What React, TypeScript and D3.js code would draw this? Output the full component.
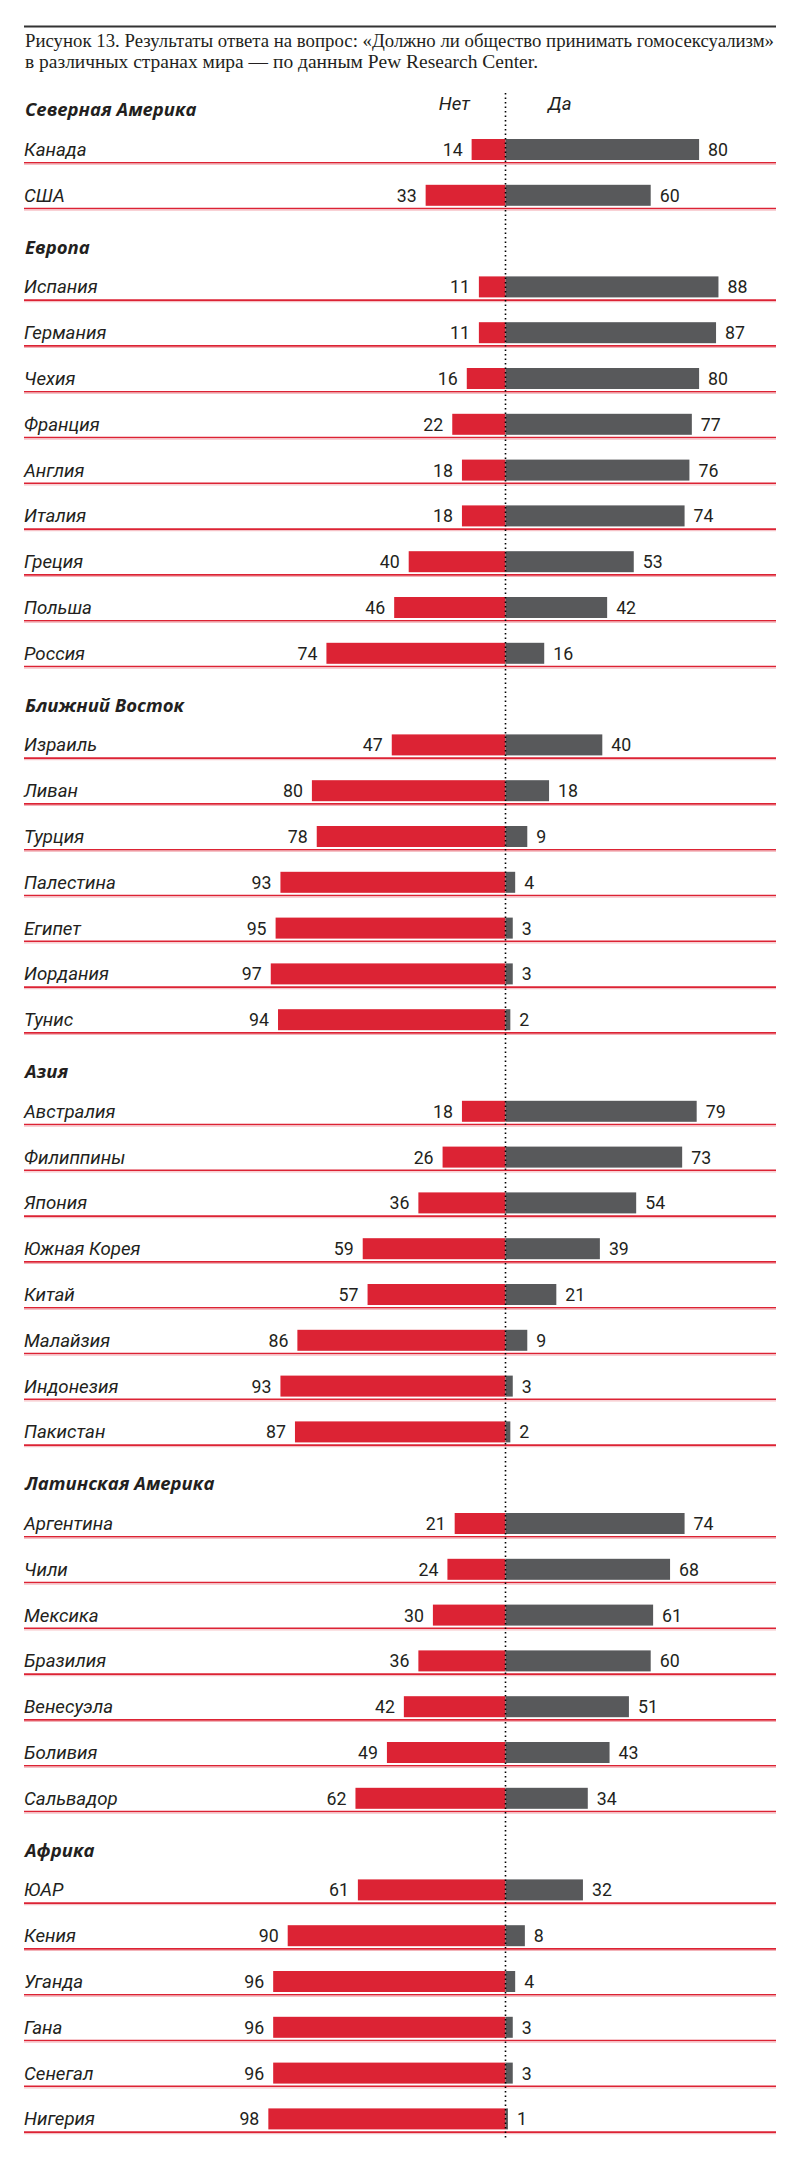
import React from "react";
import * as d3 from "d3";

const titleLines = [
  "Рисунок 13. Результаты ответа на вопрос: «Должно ли общество принимать гомосексуализм»",
  "в различных странах мира — по данным Pew Research Center.",
];
const seriesNames = ["Нет", "Да"];
const regions = ["Северная Америка", "Европа", "Ближний Восток", "Азия", "Латинская Америка", "Африка"];
const regionSizes = [2, 9, 7, 8, 7, 6];
const countries = [
  "Канада", "США",
  "Испания", "Германия", "Чехия", "Франция", "Англия", "Италия", "Греция", "Польша", "Россия",
  "Израиль", "Ливан", "Турция", "Палестина", "Египет", "Иордания", "Тунис",
  "Австралия", "Филиппины", "Япония", "Южная Корея", "Китай", "Малайзия", "Индонезия", "Пакистан",
  "Аргентина", "Чили", "Мексика", "Бразилия", "Венесуэла", "Боливия", "Сальвадор",
  "ЮАР", "Кения", "Уганда", "Гана", "Сенегал", "Нигерия",
];
const noValues = [
  14, 33,
  11, 11, 16, 22, 18, 18, 40, 46, 74,
  47, 80, 78, 93, 95, 97, 94,
  18, 26, 36, 59, 57, 86, 93, 87,
  21, 24, 30, 36, 42, 49, 62,
  61, 90, 96, 96, 96, 98,
];
const yesValues = [
  80, 60,
  88, 87, 80, 77, 76, 74, 53, 42, 16,
  40, 18, 9, 4, 3, 3, 2,
  79, 73, 54, 39, 21, 9, 3, 2,
  74, 68, 61, 60, 51, 43, 34,
  32, 8, 4, 3, 3, 1,
];

const W = 800;
const H = 2160;
const CENTER = 505.5;
const LEFT = 24;
const RIGHT = 776;
const RED = "#dc2334";
const GRAY = "#58595b";
const INK = "#231f20";
const LABEL_FONT = "Roboto, 'Noto Sans', sans-serif";

type Row = { kind: "header" | "row"; slot: number; name: string; no?: number; yes?: number };

function buildRows(): Row[] {
  const rows: Row[] = [];
  let slot = 0;
  let k = 0;
  regions.forEach((r, gi) => {
    rows.push({ kind: "header", slot: slot++, name: r });
    for (let j = 0; j < regionSizes[gi]; j++, k++) {
      rows.push({ kind: "row", slot: slot++, name: countries[k], no: noValues[k], yes: yesValues[k] });
    }
  });
  return rows;
}

export default function App() {
  const rows = buildRows();
  const nSlots = rows.length;
  const y = d3.scaleLinear().domain([0, nSlots - 1]).range([103.7, 103.7 + (nSlots - 1) * 45.8]);
  const x = d3.scaleLinear().domain([0, 100]).range([0, 242]);
  const barH = 21;
  const numSX = 0.95;
  const labSX = 1;
  const fs = 18.7;

  return (
    <svg
      width={W}
      height={H}
      viewBox={`0 0 ${W} ${H}`}
      style={{ position: "absolute", left: 0, top: 0, display: "block", background: "#fff" }}
    >
      <rect x={0} y={0} width={W} height={H} fill="#fff" />
      <line x1={LEFT} x2={RIGHT} y1={26.5} y2={26.5} stroke="#333" strokeWidth={2} />
      <text
        x={LEFT + 1}
        y={46.7}
        fontFamily="'Liberation Serif', 'DejaVu Serif', serif"
        fontSize={19.5}
        fill={INK}
        textLength={749}
        lengthAdjust="spacingAndGlyphs"
      >
        {titleLines[0]}
      </text>
      <text
        x={LEFT + 1}
        y={68}
        fontFamily="'Liberation Serif', 'DejaVu Serif', serif"
        fontSize={19.5}
        fill={INK}
        textLength={513}
        lengthAdjust="spacingAndGlyphs"
      >
        {titleLines[1]}
      </text>

      {/* series labels */}
      <text
        transform={`translate(${470},${y(0) + 6}) scale(${labSX},1)`}
        textAnchor="end"
        fontFamily={LABEL_FONT}
        fontStyle="italic"
        fontSize={fs}
        fill={INK}
      >
        {seriesNames[0]}
      </text>
      <text
        transform={`translate(${548},${y(0) + 6}) scale(${labSX},1)`}
        fontFamily={LABEL_FONT}
        fontStyle="italic"
        fontSize={fs}
        fill={INK}
      >
        {seriesNames[1]}
      </text>

      {rows.map((r, i) => {
        const cy = y(r.slot);
        if (r.kind === "header") {
          return (
            <text
              key={i}
              x={LEFT + 1}
              y={cy + 12.5}
              fontFamily="'Open Sans', Roboto, sans-serif"
              fontStyle="italic"
              fontWeight={700}
              fontSize={18.5}
              fill={INK}
            >
              {r.name}
            </text>
          );
        }
        const wNo = x(r.no!);
        const wYes = x(r.yes!);
        return (
          <g key={i}>
            <rect x={CENTER - wNo} y={cy - barH / 2} width={wNo} height={barH} fill={RED} />
            <rect x={CENTER} y={cy - barH / 2} width={wYes} height={barH} fill={GRAY} />
            <text
              transform={`translate(${LEFT},${cy + 6.5}) scale(${labSX},1)`}
              fontFamily={LABEL_FONT}
              fontStyle="italic"
              fontSize={fs}
              fill={INK}
            >
              {r.name}
            </text>
            <text
              transform={`translate(${CENTER - wNo - 9},${cy + 6.5}) scale(${numSX},1)`}
              textAnchor="end"
              fontFamily={LABEL_FONT}
              fontSize={fs}
              fill={INK}
            >
              {r.no}
            </text>
            <text
              transform={`translate(${CENTER + wYes + 9},${cy + 6.5}) scale(${numSX},1)`}
              fontFamily={LABEL_FONT}
              fontSize={fs}
              fill={INK}
            >
              {r.yes}
            </text>
            <line x1={LEFT} x2={RIGHT} y1={cy + 13.2} y2={cy + 13.2} stroke={RED} strokeWidth={1.6} />
            <line x1={LEFT} x2={RIGHT} y1={cy + 14.8} y2={cy + 14.8} stroke="#f3b3b9" strokeWidth={1} />
          </g>
        );
      })}

      <line
        x1={CENTER}
        x2={CENTER}
        y1={93}
        y2={2140}
        stroke="#000"
        strokeWidth={1.6}
        strokeDasharray="1.6 2.9"
      />
    </svg>
  );
}
